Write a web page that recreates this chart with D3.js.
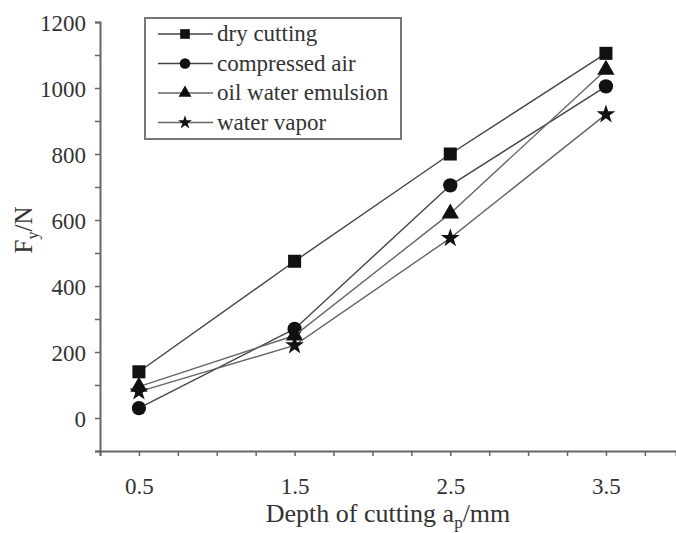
<!DOCTYPE html>
<html>
<head>
<meta charset="utf-8">
<script src="https://cdnjs.cloudflare.com/ajax/libs/d3/7.9.0/d3.min.js"></script>
<style>
  html, body { margin: 0; padding: 0; background: #fff; }
  svg { display: block; }
</style>
</head>
<body>
<svg id="chart" width="676" height="533"></svg>
<script>
// depth of cutting (mm)
const depths = [0.5, 1.5, 2.5, 3.5];
const seriesNames = ['dry cutting', 'compressed air', 'oil water emulsion', 'water vapor'];
const dryCutting = [140, 475, 800, 1105];
const compressedAir = [30, 270, 705, 1005];
const oilWaterEmulsion = [95, 250, 620, 1055];
const waterVapor = [80, 220, 545, 920];
const xTickLabels = [0.5, 1.5, 2.5, 3.5];
const yTickLabels = [0, 200, 400, 600, 800, 1000, 1200];

const FONT = 'Liberation Serif';
const svg = d3.select('#chart').attr('font-family', FONT);
const INK = '#333';
const AXIS = '#666';

const x = d3.scaleLinear().domain([0.25, 3.95]).range([100, 676]);
const y = d3.scaleLinear().domain([-100, 1200]).range([451, 22]);

// axes, minor ticks every 0.25 / 100
const xAxis = d3.axisBottom(x)
  .tickValues(d3.range(0.25, 3.95, 0.25))
  .tickSize(5)
  .tickFormat('');
const gx = svg.append('g').attr('transform', `translate(0,${y(-100)})`).call(xAxis);

const yAxis = d3.axisLeft(y)
  .tickValues(d3.range(-100, 1201, 100))
  .tickSize(5)
  .tickFormat('');
const gy = svg.append('g').attr('transform', `translate(${x(0.25)},0)`).call(yAxis);

[gx, gy].forEach(g => {
  g.attr('font-family', FONT);
  g.select('.domain').attr('stroke', AXIS).attr('stroke-width', 2);
  g.selectAll('.tick line').attr('stroke', AXIS).attr('stroke-width', 1.5);
});

gx.selectAll('.tick').filter(d => xTickLabels.some(v => Math.abs(v - d) < 1e-6))
  .select('text').attr('fill', INK).attr('font-size', 23).attr('font-family', FONT)
  .attr('y', 0).attr('dy', null)
  .append('tspan').attr('x', 0).attr('y', 43).text(d => d3.format('.1f')(d));

gy.selectAll('.tick').filter(d => yTickLabels.includes(d))
  .select('text').attr('fill', INK).attr('font-size', 23).attr('font-family', FONT)
  .attr('dy', null)
  .append('tspan').attr('x', -14).attr('y', 8).text(d => d);

// axis titles
const xt = svg.append('text').attr('x', 388).attr('y', 522).attr('text-anchor', 'middle')
  .attr('font-family', FONT).attr('font-size', 26).attr('fill', INK);
xt.append('tspan').text('Depth of cutting a');
xt.append('tspan').attr('font-size', 17).attr('dy', 6).text('p');
xt.append('tspan').attr('dy', -6).text('/mm');

const yt = svg.append('text').attr('transform', 'translate(32,230) rotate(-90)')
  .attr('text-anchor', 'middle').attr('font-family', FONT).attr('font-size', 25).attr('fill', INK);
yt.append('tspan').text('F');
yt.append('tspan').attr('font-size', 16).attr('dy', 6).text('y');
yt.append('tspan').attr('dy', -6).text('/N');

// series
const series = [
  { name: seriesNames[0], values: dryCutting, symbol: d3.symbolSquare, size: 170, line: '#444' },
  { name: seriesNames[1], values: compressedAir, symbol: d3.symbolCircle, size: 160, line: '#444' },
  { name: seriesNames[2], values: oilWaterEmulsion, symbol: d3.symbolTriangle, size: 130, line: '#666' },
  { name: seriesNames[3], values: waterVapor, symbol: d3.symbolStar, size: 110, line: '#666' }
];

const line = d3.line().x(d => x(d[0])).y(d => y(d[1]));

series.forEach(s => {
  const pts = depths.map((d, i) => [d, s.values[i]]);
  svg.append('path').datum(pts).attr('d', line)
    .attr('fill', 'none').attr('stroke', s.line).attr('stroke-width', 1.4);
  svg.append('g').selectAll('path').data(pts).join('path')
    .attr('transform', d => `translate(${x(d[0])},${y(d[1])})`)
    .attr('d', d3.symbol().type(s.symbol).size(s.size))
    .attr('fill', '#111');
});

// legend
const lg = svg.append('g').attr('font-family', FONT);
lg.append('rect').attr('x', 145).attr('y', 18).attr('width', 256).attr('height', 121)
  .attr('fill', '#fff').attr('stroke', '#777').attr('stroke-width', 2);
series.forEach((s, i) => {
  const ly = 34 + i * 29.5;
  lg.append('line').attr('x1', 158).attr('x2', 213).attr('y1', ly).attr('y2', ly)
    .attr('stroke', s.line).attr('stroke-width', 1.5);
  lg.append('path').attr('transform', `translate(185,${ly})`)
    .attr('d', d3.symbol().type(s.symbol).size(s.size * 0.55)).attr('fill', '#111');
  lg.append('text').attr('x', 217).attr('y', ly + 7).attr('font-family', FONT).attr('font-size', 23)
    .attr('fill', INK).append('tspan').text(s.name);
});
</script>
</body>
</html>
